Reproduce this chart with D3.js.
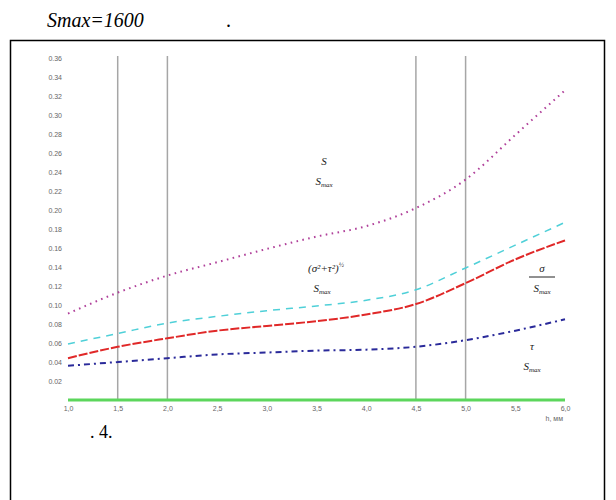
<!DOCTYPE html>
<html>
<head>
<meta charset="utf-8">
<script src="https://cdn.jsdelivr.net/npm/d3@7"></script>
<style>
  html, body { margin: 0; padding: 0; background: #fff; }
  svg { display: block; }
</style>
</head>
<body>
<svg id="fig" width="616" height="500"></svg>
<script>
// Relative stresses along the section (fractions of Smax)
const xLabels = ["1,0", "1,5", "2,0", "2,5", "3,0", "3,5", "4,0", "4,5", "5,0", "5,5", "6,0"];
const yTicks  = [0.02, 0.04, 0.06, 0.08, 0.10, 0.12, 0.14, 0.16, 0.18, 0.20,
                 0.22, 0.24, 0.26, 0.28, 0.30, 0.32, 0.34, 0.36];

const sRatio     = [0.091, 0.113, 0.131, 0.145, 0.159, 0.172, 0.183, 0.202, 0.232, 0.279, 0.326];
const eqRatio    = [0.059, 0.070, 0.081, 0.088, 0.094, 0.099, 0.105, 0.116, 0.139, 0.163, 0.187];
const sigmaRatio = [0.044, 0.056, 0.065, 0.073, 0.078, 0.083, 0.090, 0.101, 0.123, 0.148, 0.168];
const tauRatio   = [0.036, 0.040, 0.044, 0.048, 0.050, 0.052, 0.053, 0.056, 0.063, 0.073, 0.085];
const baseRatio  = [0, 0, 0, 0, 0, 0, 0, 0, 0, 0, 0];

// vertical marker lines at these x positions (label values)
const markers = ["1,5", "2,0", "4,5", "5,0"];

const svg = d3.select("#fig");

// page text around the figure
svg.append("text")
  .attr("x", 47).attr("y", 27)
  .attr("font-family", "Liberation Serif, serif")
  .attr("font-style", "italic")
  .attr("font-size", 20)
  .text("Smax=1600");
svg.append("text")
  .attr("x", 226).attr("y", 27)
  .attr("font-family", "Liberation Serif, serif")
  .attr("font-size", 20)
  .text(".");

// frame
svg.append("path")
  .attr("d", "M10.5,500 V40.5 H604.5 V500")
  .attr("fill", "none")
  .attr("stroke", "#000")
  .attr("stroke-width", 1.5);

const x = d3.scalePoint().domain(xLabels).range([68, 565]);
const y = d3.scaleLinear().domain([0, 0.36]).range([400, 58]);

// vertical grid markers
svg.append("g").selectAll("line").data(markers).join("line")
  .attr("x1", d => x(d)).attr("x2", d => x(d))
  .attr("y1", y(0.36) - 2).attr("y2", y(0))
  .attr("stroke", "#a6a6a6").attr("stroke-width", 1.5);

// y axis (labels only)
const yAxis = svg.append("g")
  .attr("transform", "translate(64,0)")
  .call(d3.axisLeft(y).tickValues(yTicks).tickFormat(d3.format(".2f")).tickSize(0).tickPadding(2));
yAxis.select(".domain").remove();
yAxis.selectAll("text")
  .attr("font-family", "Liberation Sans, sans-serif")
  .attr("font-size", 7)
  .attr("fill", "#666");

// x axis (labels only)
const xAxis = svg.append("g")
  .attr("transform", "translate(0,402)")
  .call(d3.axisBottom(x).tickSize(0).tickPadding(4));
xAxis.select(".domain").remove();
xAxis.selectAll("text")
  .attr("font-family", "Liberation Sans, sans-serif")
  .attr("font-size", 7)
  .attr("fill", "#666");

svg.append("text")
  .attr("x", 563).attr("y", 421)
  .attr("text-anchor", "end")
  .attr("font-family", "Liberation Sans, sans-serif")
  .attr("font-size", 7)
  .attr("fill", "#666")
  .text("h, мм");

const line = d3.line()
  .x((d, i) => x(xLabels[i]))
  .y(d => y(d))
  .curve(d3.curveMonotoneX);

const series = [
  { data: baseRatio,  color: "#5cd65c", width: 3,   dash: null },
  { data: tauRatio,   color: "#2a2a9a", width: 2,   dash: "6,4,2,4" },
  { data: sigmaRatio, color: "#e02828", width: 2,   dash: "9,2" },
  { data: eqRatio,    color: "#4fd0d8", width: 1.5, dash: "7,6" },
  { data: sRatio,     color: "#b0409a", width: 2,   dash: "1.6,4.4" }
];

svg.append("g").selectAll("path").data(series).join("path")
  .attr("d", d => line(d.data))
  .attr("fill", "none")
  .attr("stroke", d => d.color)
  .attr("stroke-width", d => d.width)
  .attr("stroke-dasharray", d => d.dash);

// curve annotations
const ann = svg.append("g")
  .attr("font-family", "Liberation Serif, serif")
  .attr("font-style", "italic")
  .attr("font-size", 11)
  .attr("fill", "#222");

function frac(g, cx, top, num, bar) {
  g.append("text").attr("x", cx).attr("y", top).attr("text-anchor", "middle").text(num);
  const den = g.append("text").attr("x", cx).attr("y", top + 20).attr("text-anchor", "middle");
  den.append("tspan").text("S");
  den.append("tspan").attr("font-size", 7).attr("dy", 2).text("max");
  if (bar) {
    g.append("line")
      .attr("x1", cx - 13).attr("x2", cx + 13)
      .attr("y1", top + 5).attr("y2", top + 5)
      .attr("stroke", "#222").attr("stroke-width", 1);
  }
}

frac(ann, 324, 165, "S", false);
const eq = ann.append("text").attr("x", 326).attr("y", 272).attr("text-anchor", "middle");
eq.append("tspan").text("(σ²+τ²)");
eq.append("tspan").attr("font-size", 7).attr("dy", -5).text("½");
const eqDen = ann.append("text").attr("x", 322).attr("y", 292).attr("text-anchor", "middle");
eqDen.append("tspan").text("S");
eqDen.append("tspan").attr("font-size", 7).attr("dy", 2).text("max");
frac(ann, 542, 272, "σ", true);
frac(ann, 532, 350, "τ", false);

// figure caption
svg.append("text")
  .attr("x", 90).attr("y", 438)
  .attr("font-family", "Liberation Serif, serif")
  .attr("font-size", 18)
  .text(". 4.");
</script>
</body>
</html>
